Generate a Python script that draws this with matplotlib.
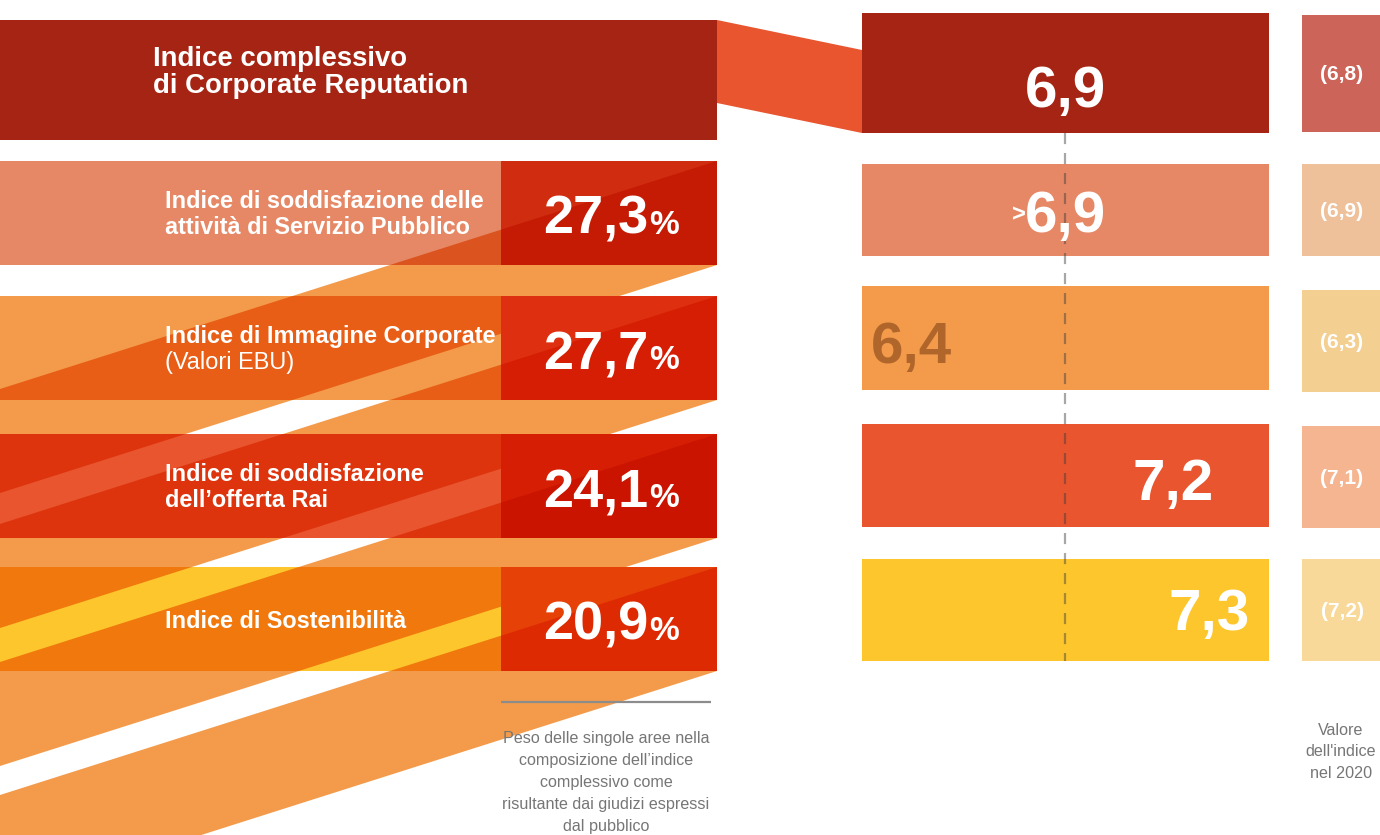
import matplotlib
matplotlib.use("Agg")
import matplotlib.pyplot as plt
from matplotlib.patches import Rectangle, Polygon
from matplotlib.colors import to_rgb

plt.rcParams['font.family'] = ['Liberation Sans', 'DejaVu Sans']

# ---- data -------------------------------------------------------------
overall_label = ["Indice complessivo", "di Corporate Reputation"]
area_labels = [
    [("Indice di soddisfazione delle", "bold"), ("attività di Servizio Pubblico", "bold")],
    [("Indice di Immagine Corporate", "bold"), ("(Valori EBU)", "normal")],
    [("Indice di soddisfazione", "bold"), ("dell’offerta Rai", "bold")],
    [("Indice di Sostenibilità", "bold")],
]
weights_pct = [27.3, 27.7, 24.1, 20.9]          # weight of each area in the overall index
scores_2021 = [6.9, 6.9, 6.4, 7.2, 7.3]         # overall index + four areas
scores_prefix = ["", ">", "", "", ""]
scores_2020 = [6.8, 6.9, 6.3, 7.1, 7.2]
weights_caption = ["Peso delle singole aree nella", "composizione dell’indice",
                   "complessivo come", "risultante dai giudizi espressi", "dal pubblico"]
prev_caption = ["Valore", "dell'indice", "nel 2020"]

# ---- palette -----------------------------------------------------------
row_colors = ["#A52413", "#E68865", "#F39B4B", "#E8552F", "#FDC62D"]
prev_colors = ["#CD6459", "#EEC19B", "#F4CF92", "#F6B591", "#F8D99A"]
ribbon_color = "#F39B4B"
box_light = ["#CF2C10", "#DE3010", "#D61E05", "#E64208"]
box_dark = ["#C51A03", "#D51E03", "#CA1400", "#DE2A02"]
connector_color = "#E8552F"

def fmt(v):
    return f"{v:.1f}".replace(".", ",")

def multiply(c1, c2):
    a, b = to_rgb(c1), to_rgb(c2)
    return tuple(x * y for x, y in zip(a, b))

# ---- layout (pixel space) ---------------------------------------------
W, H = 1380, 835
fig = plt.figure(figsize=(W / 100, H / 100), dpi=100)
ax = fig.add_axes([0, 0, 1, 1])
ax.set_xlim(0, W)
ax.set_ylim(H, 0)
ax.axis("off")

left_x0, left_x1 = 0, 717
box_x0 = 501
top_row = (20, 140)
area_rows = [(161, 265), (296, 400), (434, 538), (567, 671)]
slope = 0.318

right_x0, right_x1 = 862, 1269
right_rows = [(13, 133), (164, 256), (286, 390), (424, 527), (559, 661)]
prev_x0, prev_x1 = 1302, 1380
prev_rows = [(15, 132), (164, 256), (290, 392), (426, 528), (559, 661)]

# ---- diagonal ribbons leaving each row towards bottom-left -------------
def ribbon_points(top, bot):
    xl = -60
    d = slope * (left_x1 - xl)
    return [(left_x1, top), (left_x1, bot), (xl, bot + d), (xl, top + d)]

ribbons = [ribbon_points(t, b) for t, b in area_rows]
for pts in ribbons:
    ax.add_patch(Polygon(pts, closed=True, facecolor=ribbon_color, edgecolor="none", zorder=1))

# ---- left: overall index row ------------------------------------------
ax.add_patch(Rectangle((left_x0, top_row[0]), left_x1 - left_x0, top_row[1] - top_row[0],
                       facecolor=row_colors[0], edgecolor="none", zorder=2))
for i, line in enumerate(overall_label):
    ax.text(153, 66 + i * 27, line, color="white", fontsize=19.8, fontweight="bold",
            va="baseline", ha="left", zorder=10)

# connector to the right panel
ax.add_patch(Polygon([(left_x1, 20), (right_x0, 50), (right_x0, 133), (left_x1, 103)],
                     closed=True, facecolor=connector_color, edgecolor="none", zorder=2))

# ---- left: area rows (multiplied over the ribbons) ---------------------
pct_parts = []
for i, (t, b) in enumerate(area_rows):
    base = Rectangle((left_x0, t), box_x0 - left_x0, b - t, facecolor=row_colors[i + 1],
                     edgecolor="none", zorder=2)
    ax.add_patch(base)
    blended = multiply(row_colors[i + 1], ribbon_color)
    for pts in ribbons:
        p = Polygon(pts, closed=True, facecolor=blended, edgecolor="none", zorder=3)
        ax.add_patch(p)
        p.set_clip_path(base)

    box = Rectangle((box_x0, t), left_x1 - box_x0, b - t, facecolor=box_light[i],
                    edgecolor="none", zorder=4)
    ax.add_patch(box)
    p = Polygon(ribbons[i], closed=True, facecolor=box_dark[i], edgecolor="none", zorder=5)
    ax.add_patch(p)
    p.set_clip_path(box)

    lines = area_labels[i]
    if len(lines) == 2:
        ys = [t + 47, t + 73]
    else:
        ys = [t + 61]
    for (txt, wt), y in zip(lines, ys):
        ax.text(165, y, txt, color="white", fontsize=16.9, fontweight=wt,
                va="baseline", ha="left", zorder=10)

    cy = (t + b) / 2 + 21
    num = ax.text(0, cy, fmt(weights_pct[i]), color="white", fontsize=39, fontweight="bold",
                  va="baseline", ha="left", zorder=10)
    pc = ax.text(0, cy, "%", color="white", fontsize=24, fontweight="bold",
                 va="baseline", ha="left", zorder=10)
    pct_parts.append((num, pc))

# caption under the weights
ax.plot([501, 711], [702, 702], color="#8C8C8C", lw=1.6, zorder=6, solid_capstyle="butt")
for i, line in enumerate(weights_caption):
    ax.text(606, 743 + i * 22, line, color="#767676", fontsize=11.6,
            va="baseline", ha="center", zorder=10)

# ---- right panel ------------------------------------------------------
ref_x = 1065          # position of the overall score on the value scale
px_per_point = 360.0

def score_x(v):
    return ref_x + (v - scores_2021[0]) * px_per_point

baselines = [107, 232, 363, 500, 630]
score_texts = []
for i, ((t, b), v) in enumerate(zip(right_rows, scores_2021)):
    ax.add_patch(Rectangle((right_x0, t), right_x1 - right_x0, b - t,
                           facecolor=row_colors[i], edgecolor="none", zorder=2))
    col = "white" if i != 2 else "#B0662A"
    st = ax.text(score_x(v), baselines[i], fmt(v), color=col, fontsize=42, fontweight="bold",
                 va="baseline", ha="center", zorder=10)
    score_texts.append(st)
    if scores_prefix[i]:
        ax.text(0, baselines[i] - 11, scores_prefix[i], color=col, fontsize=17,
                fontweight="bold", va="baseline", ha="right", zorder=10, gid=f"prefix{i}")

for i, ((t, b), v) in enumerate(zip(prev_rows, scores_2020)):
    ax.add_patch(Rectangle((prev_x0, t), prev_x1 - prev_x0, b - t,
                           facecolor=prev_colors[i], edgecolor="none", zorder=2))
    ax.text((prev_x0 + prev_x1) / 2 + 1, (t + b) / 2 + 7, f"({fmt(v)})", color="white",
            fontsize=15, fontweight="bold", va="baseline", ha="center", zorder=10)

# dashed reference at the overall score
ax.plot([score_x(scores_2021[0])] * 2, [right_rows[0][1], right_rows[-1][1]],
        color="#3C3C3C", alpha=0.45, lw=1.6, ls=(0, (5, 4)), zorder=6)

for i, line in enumerate(prev_caption):
    ax.text(1341, 735 + i * 21.5, line, color="#767676", fontsize=11.6,
            va="baseline", ha="center", zorder=10)

# ---- fine placement of composed labels ----------------------------------
fig.canvas.draw()
r = fig.canvas.get_renderer()
inv = ax.transData.inverted()

def width_data(t):
    bb = t.get_window_extent(renderer=r)
    (x0, _), (x1, _) = inv.transform([(bb.x0, bb.y0), (bb.x1, bb.y0)])
    return x1 - x0

box_center = (box_x0 + left_x1) / 2 + 2
for num, pc in pct_parts:
    wn, wp = width_data(num), width_data(pc)
    gap = 1
    start = box_center - (wn + wp + gap) / 2
    num.set_x(start)
    pc.set_x(start + wn + gap)

# keep score labels inside their bars
for i, st in enumerate(score_texts):
    w = width_data(st)
    x = st.get_position()[0]
    lo, hi = right_x0 + 9 + w / 2, right_x1 - 18 - w / 2
    st.set_x(min(max(x, lo), hi))

for t in ax.texts:
    gid = t.get_gid()
    if gid and gid.startswith("prefix"):
        i = int(gid[6:])
        st = score_texts[i]
        w = width_data(st)
        t.set_x(st.get_position()[0] - w / 2 + 1)

fig.savefig("out.png", dpi=100)
